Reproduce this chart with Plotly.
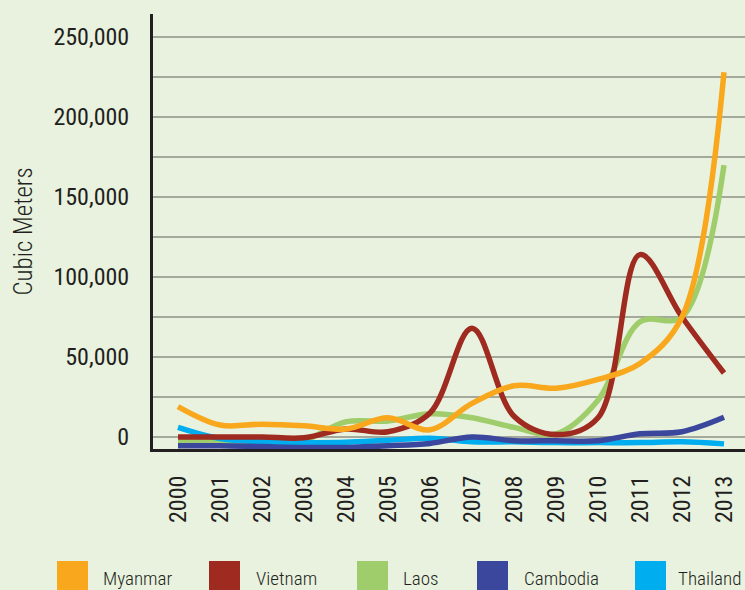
import plotly.graph_objects as go

years = list(range(2000, 2014))
year_labels = [str(y) for y in years]

# Cubic meters
myanmar = [19000, 7500, 8000, 7000, 5000, 12000, 4500, 21000, 32000, 30500, 36000, 46000, 75000, 228000]
vietnam = [0, 0, 0, -500, 5000, 3300, 15000, 68000, 13000, 1500, 12000, 114000, 75000, 40000]
laos = [-3000, -3000, -3000, -2000, 9500, 10000, 14500, 12000, 6000, 2000, 23000, 72000, 75000, 170000]
cambodia = [-5500, -5500, -6000, -6500, -6500, -5500, -4000, 0, -2300, -2300, -2300, 2000, 3300, 12300]
thailand = [6000, -1000, -3000, -3500, -3300, -2000, -800, -3000, -3000, -3500, -3500, -3500, -3000, -4300]

y_ticks = [0, 50000, 100000, 150000, 200000, 250000]
y_tick_labels = ["0", "50,000", "100,000", "150,000", "200,000", "250,000"]

series = [
    ("Laos", laos, "#A0CD6B"),
    ("Thailand", thailand, "#00AEEF"),
    ("Cambodia", cambodia, "#3A479C"),
    ("Vietnam", vietnam, "#9E2A20"),
    ("Myanmar", myanmar, "#F9A71C"),
]
legend_order = ["Myanmar", "Vietnam", "Laos", "Cambodia", "Thailand"]
colors = {n: c for n, _, c in series}

FONT = "Roboto Condensed, DejaVu Sans Condensed, sans-serif"
TEXT = "#231F20"
BG = "#E8F2DF"

def fnt(size, weight=400):
    return dict(family=FONT, size=size, color=TEXT, weight=weight)

fig = go.Figure()
for name, vals, col in series:
    fig.add_trace(go.Scatter(
        x=years, y=vals, name=name, mode="lines",
        line=dict(color=col, width=5.5, shape="spline", smoothing=1.0),
        hoverinfo="skip", showlegend=False,
    ))

W, H = 745, 590
L, R, T, B = 153, 0, 14, 141
pw, ph = W - L - R, H - T - B

def px_x(px):
    return (px - L) / pw

def px_y(py):
    return (H - B - py) / ph

# Custom legend with square swatches
swatch_x = [57, 209, 357, 477, 635]
text_x = [101, 254, 401, 522, 676]
shapes = []
annotations = []
for name, sx, tx in zip(legend_order, swatch_x, text_x):
    shapes.append(dict(type="rect", xref="paper", yref="paper",
                       x0=px_x(sx), x1=px_x(sx + 31), y0=px_y(561), y1=px_y(593),
                       fillcolor=colors[name], line=dict(width=0)))
    annotations.append(dict(xref="paper", yref="paper", x=px_x(tx), y=px_y(578),
                            text=name, showarrow=False, xanchor="left", yanchor="middle",
                            font=fnt(19, 300)))

fig.update_layout(
    width=W, height=H,
    margin=dict(l=L, r=R, t=T, b=B, pad=0),
    paper_bgcolor=BG, plot_bgcolor=BG,
    showlegend=False,
    shapes=shapes, annotations=annotations,
    xaxis=dict(
        range=[1999.405, 2013.5],
        tickmode="array", tickvals=years, ticktext=year_labels,
        tickangle=-90, ticks="", showgrid=False, zeroline=False,
        showline=True, linecolor=TEXT, linewidth=3,
        tickfont=fnt(24),
        ticklabelstandoff=14,
    ),
    yaxis=dict(
        range=[-7500, 264400],
        tickmode="array", tickvals=y_ticks, ticktext=y_tick_labels,
        minor=dict(tickmode="array", tickvals=[25000, 75000, 125000, 175000, 225000],
                   showgrid=True, gridcolor="#A4A99B", gridwidth=1.5, ticks=""),
        showgrid=True, gridcolor="#A4A99B", gridwidth=1.5,
        zeroline=False, ticks="",
        showline=True, linecolor=TEXT, linewidth=3,
        tickfont=fnt(24),
        ticklabelstandoff=16,
        title=dict(text="Cubic Meters", font=fnt(25, 300), standoff=14),
    ),
)

post = "document.body.style.margin='0';document.body.style.overflow='hidden';"
fig.write_html("out.html", post_script=post, config={"displayModeBar": False})
